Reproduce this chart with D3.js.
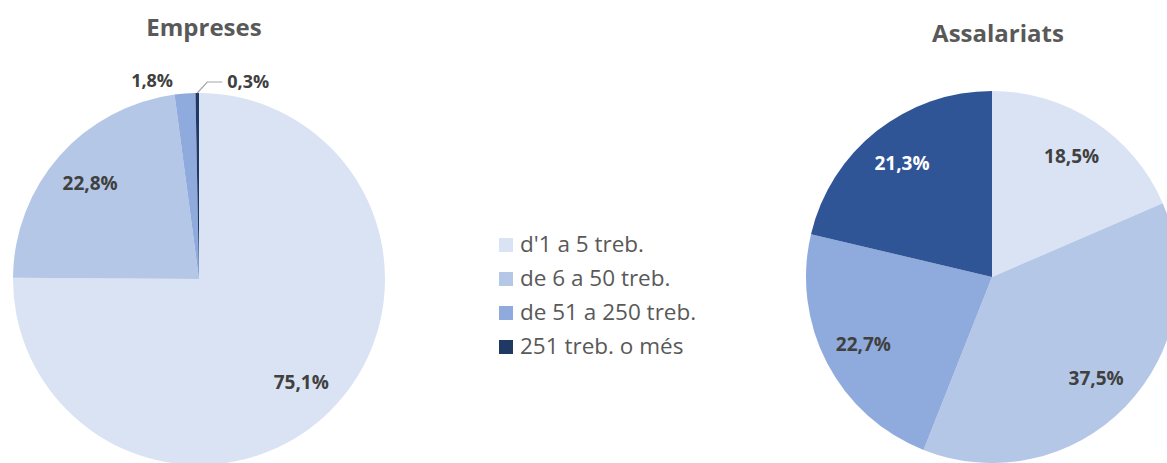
<!DOCTYPE html>
<html>
<head>
<meta charset="utf-8">
<script src="https://cdn.jsdelivr.net/npm/d3@7"></script>
<style>
  body { margin: 0; background: #fff; }
  svg { display: block; font-family: "Open Sans", "Noto Sans", sans-serif; }
</style>
</head>
<body>
<div id="chart"></div>
<script>
const categories = ["d'1 a 5 treb.", "de 6 a 50 treb.", "de 51 a 250 treb.", "251 treb. o més"];
const empreses = [75.1, 22.8, 1.8, 0.3];
const assalariats = [18.5, 37.5, 22.7, 21.3];
const colorsEmpreses = ['#dae3f3', '#b4c7e7', '#8faadc', '#203864'];
const colorsAssalariats = ['#dae3f3', '#b4c7e7', '#8faadc', '#2f5597'];

let width = 1167;
let height = 463;
let radius = 186;

let svg = d3.select('#chart').append('svg')
    .attr('width', width)
    .attr('height', height);

const pie = d3.pie().sort(null).value(d => d);
const fmt = v => v.toFixed(1).replace('.', ',') + '%';

drawPie(empreses, colorsEmpreses, 199, 279, 'Empreses', 204, 36, 'empreses');
drawPie(assalariats, colorsAssalariats, 992, 277, 'Assalariats', 998, 42, 'assalariats');
drawLegend();

function drawPie(values, colors, cx, cy, title, tx, ty, key) {
    let g = svg.append('g').attr('transform', `translate(${cx},${cy})`);
    let arc = d3.arc().innerRadius(0).outerRadius(radius);
    let labelArc = d3.arc().innerRadius(radius * 0.78).outerRadius(radius * 0.78);
    let arcs = pie(values);

    g.selectAll('path')
        .data(arcs)
        .enter()
        .append('path')
        .attr('d', arc)
        .attr('fill', (d, i) => colors[i]);

    svg.append('text')
        .attr('x', tx)
        .attr('y', ty)
        .attr('text-anchor', 'middle')
        .attr('font-size', '24px')
        .attr('font-weight', 'bold')
        .attr('fill', '#595959')
        .text(title);

    arcs.forEach(function(d, i) {
        let v = d.data;
        if (v >= 5) {
            let c = labelArc.centroid(d);
            g.append('text')
                .attr('x', c[0])
                .attr('y', c[1] + 7)
                .attr('text-anchor', 'middle')
                .attr('font-size', '19px')
                .attr('font-weight', 'bold')
                .attr('fill', (key == 'assalariats' && i == 3) ? '#ffffff' : '#404040')
                .text(fmt(v));
        } else if (i == 2) {
            // 1,8% fora del pastís, a l'esquerra
            let a = (d.startAngle + d.endAngle) / 2;
            let px = Math.sin(a) * (radius + 12);
            let py = -Math.cos(a) * (radius + 12);
            g.append('text')
                .attr('x', px - 11)
                .attr('y', py + 5)
                .attr('text-anchor', 'end')
                .attr('font-size', '18px')
                .attr('font-weight', 'bold')
                .attr('fill', '#404040')
                .text(fmt(v));
        } else {
            // 0,3% amb línia guia
            let a = (d.startAngle + d.endAngle) / 2;
            let sx = Math.sin(a) * radius;
            let sy = -Math.cos(a) * radius;
            let ex = sx + 10, ey = sy - 11;
            g.append('polyline')
                .attr('points', [[sx, sy], [ex, ey], [ex + 15, ey]].map(p => p.join(',')).join(' '))
                .attr('fill', 'none')
                .attr('stroke', '#a6a6a6')
                .attr('stroke-width', 1.2);
            g.append('text')
                .attr('x', ex + 20)
                .attr('y', ey + 6)
                .attr('text-anchor', 'start')
                .attr('font-size', '18px')
                .attr('font-weight', 'bold')
                .attr('fill', '#404040')
                .text(fmt(v));
        }
    });
}

function drawLegend() {
    let legend = svg.append('g').attr('transform', 'translate(499,238)');
    let row = d3.scaleBand().domain(categories).range([0, 136]);

    let items = legend.selectAll('g')
        .data(categories)
        .enter()
        .append('g')
        .attr('transform', d => `translate(0,${row(d)})`);

    items.append('rect')
        .attr('width', 14)
        .attr('height', 14)
        .attr('fill', (d, i) => colorsEmpreses[i]);

    items.append('text')
        .attr('x', 21)
        .attr('y', 14)
        .attr('font-size', '22.5px')
        .attr('fill', '#595959')
        .text(d => d);
}
</script>
</body>
</html>
